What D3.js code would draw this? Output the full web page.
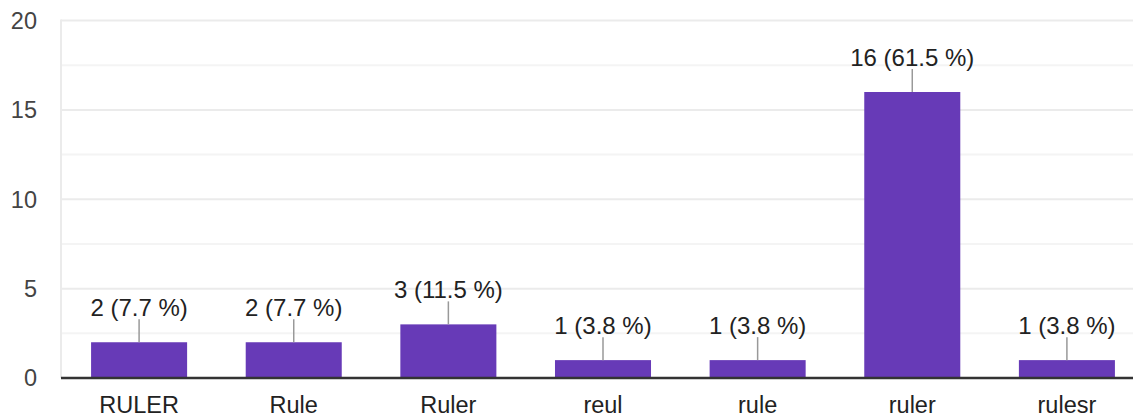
<!DOCTYPE html>
<html><head><meta charset="utf-8">
<script src="https://cdn.jsdelivr.net/npm/d3@7"></script>
<style>body{margin:0;background:#fff}svg{display:block}text{font-family:"Liberation Sans",Arial,sans-serif}</style>
</head><body>
<svg id="c" width="1133" height="418"></svg>
<script>
const categories = ["RULER","Rule","Ruler","reul","rule","ruler","rulesr"];
const counts = [2,2,3,1,1,16,1];
const labels = ["2 (7.7 %)","2 (7.7 %)","3 (11.5 %)","1 (3.8 %)","1 (3.8 %)","16 (61.5 %)","1 (3.8 %)"];
const yTicks = [0,5,10,15,20];
const yGrid = [0,2.5,5,7.5,10,12.5,15,17.5,20];

const svg = d3.select("#c");
const x = d3.scaleBand().domain(categories).range([61.7,1144.3]).paddingInner(0.379).paddingOuter(0.19);
const y = d3.scaleLinear().domain([0,20]).range([378,20.5]);

// grid
svg.append("g").selectAll("line").data(yGrid).join("line")
  .attr("x1",61).attr("x2",1133)
  .attr("y1",d=>y(d)).attr("y2",d=>y(d))
  .attr("stroke",d=>d%5===0?"#ebebeb":"#f4f4f4").attr("stroke-width",2);
svg.append("line").attr("x1",61).attr("x2",61).attr("y1",y(20)-1).attr("y2",y(0))
  .attr("stroke","#ebebeb").attr("stroke-width",2);

// y labels
svg.append("g").selectAll("text").data(yTicks).join("text")
  .attr("x",37).attr("y",d=>y(d)).attr("dy","0.36em").attr("text-anchor","end")
  .attr("font-size",23.5).attr("fill","#444").text(d=>d);

// bars
svg.append("g").selectAll("rect").data(counts).join("rect")
  .attr("x",(d,i)=>x(categories[i])).attr("width",x.bandwidth())
  .attr("y",d=>y(d)).attr("height",d=>y(0)-y(d)).attr("fill","#673ab7");

// leader lines
svg.append("g").selectAll("line").data(counts).join("line")
  .attr("x1",(d,i)=>x(categories[i])+x.bandwidth()/2).attr("x2",(d,i)=>x(categories[i])+x.bandwidth()/2)
  .attr("y1",d=>y(d)).attr("y2",d=>y(d)-23).attr("stroke","#999").attr("stroke-width",1.5);

// value labels
svg.append("g").selectAll("text").data(counts).join("text")
  .attr("x",(d,i)=>x(categories[i])+x.bandwidth()/2).attr("y",d=>y(d)-26)
  .attr("text-anchor","middle").attr("font-size",24).attr("fill","#222").text((d,i)=>labels[i]);

// baseline
svg.append("line").attr("x1",61).attr("x2",1133).attr("y1",y(0)).attr("y2",y(0))
  .attr("stroke","#333").attr("stroke-width",2.5);

// x labels
svg.append("g").selectAll("text").data(categories).join("text")
  .attr("x",d=>x(d)+x.bandwidth()/2).attr("y",413)
  .attr("text-anchor","middle").attr("font-size",23.5).attr("fill","#222").text(d=>d);
</script>
</body></html>
